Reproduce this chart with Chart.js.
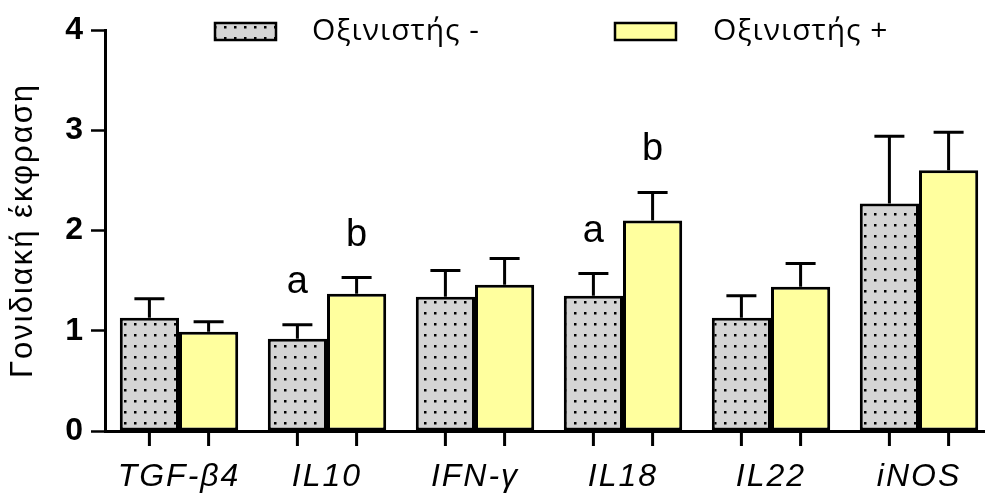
<!DOCTYPE html>
<html>
<head>
    <title>Γονιδιακή έκφραση</title>
    <script src="https://cdn.jsdelivr.net/npm/chart.js"></script>
    <style>
        body { margin: 0; background: #fff; overflow: hidden; }
        #wrap { width: 985px; height: 495px; overflow: hidden; }
    </style>
</head>
<body>
    <div id="wrap"><canvas id="geneChart" width="993" height="495"></canvas></div>

    <script>
        const categories = ['TGF-β4', 'IL10', 'IFN-γ', 'IL18', 'IL22', 'iNOS'];
        const minusValues = [1.13, 0.92, 1.34, 1.35, 1.13, 2.27];
        const minusErrors = [0.19, 0.14, 0.26, 0.22, 0.22, 0.67];
        const plusValues = [0.99, 1.37, 1.46, 2.10, 1.44, 2.60];
        const plusErrors = [0.10, 0.16, 0.26, 0.28, 0.23, 0.38];
        const minusLetters = ['', 'a', '', 'a', '', ''];
        const plusLetters = ['', 'b', '', 'b', '', ''];
        const yTicks = [0, 1, 2, 3, 4];

        // dotted grey fill
        function dotPattern() {
            const c = document.createElement('canvas');
            c.width = 10; c.height = 11;
            const g = c.getContext('2d');
            g.fillStyle = '#d4d4d4';
            g.fillRect(0, 0, 10, 11);
            g.fillStyle = '#000';
            g.fillRect(4, 4, 2.5, 2.5);
            return g.createPattern(c, 'repeat');
        }
        const greyFill = dotPattern();
        const yellowFill = '#ffff9e';

        // the original text is drawn a bit wider, so space the letters out
        const spacing = {
            id: 'spacing',
            beforeLayout(chart) { chart.ctx.letterSpacing = '2px'; },
            beforeDraw(chart) { chart.ctx.letterSpacing = '2px'; }
        };

        const errorBars = {
            id: 'errorBars',
            afterDatasetsDraw(chart) {
                const ctx = chart.ctx;
                const y = chart.scales.y;
                const xAxisBottom = chart.chartArea.bottom;
                ctx.save();
                ctx.letterSpacing = '0px';
                ctx.strokeStyle = '#000';
                ctx.lineWidth = 3;
                chart.data.datasets.forEach((ds, di) => {
                    const meta = chart.getDatasetMeta(di);
                    meta.data.forEach((bar, i) => {
                        const top = y.getPixelForValue(ds.data[i]);
                        const errTop = y.getPixelForValue(ds.data[i] + ds.errors[i]);
                        ctx.beginPath();
                        ctx.moveTo(bar.x, top);
                        ctx.lineTo(bar.x, errTop);
                        ctx.moveTo(bar.x - 15, errTop);
                        ctx.lineTo(bar.x + 15, errTop);
                        // x tick under bar
                        ctx.moveTo(bar.x, xAxisBottom);
                        ctx.lineTo(bar.x, xAxisBottom + 15);
                        ctx.stroke();
                        if (ds.letters[i]) {
                            ctx.fillStyle = '#000';
                            ctx.font = '38px "Liberation Sans", Arial, sans-serif';
                            ctx.textAlign = 'center';
                            ctx.textBaseline = 'alphabetic';
                            ctx.fillText(ds.letters[i], bar.x, errTop - 32);
                        }
                    });
                });
                ctx.restore();
            },
            afterDraw(chart) {
                const ctx = chart.ctx;
                ctx.save();
                ctx.letterSpacing = '1px';
                const spots = [[215, 312], [615, 713]];
                chart.data.datasets.forEach((ds, di) => {
                    const [bx, tx] = spots[di];
                    ctx.fillStyle = ds.backgroundColor;
                    ctx.fillRect(bx, 23, 61, 17);
                    ctx.strokeStyle = '#000';
                    ctx.lineWidth = 2.5;
                    ctx.strokeRect(bx, 23, 61, 17);
                    ctx.fillStyle = '#000';
                    ctx.font = '30px "Open Sans", sans-serif';
                    ctx.textAlign = 'left';
                    ctx.textBaseline = 'middle';
                    ctx.fillText(ds.label, tx, 31);
                });
                ctx.restore();
            }
        };

        const ctx = document.getElementById('geneChart').getContext('2d');
        new Chart(ctx, {
            type: 'bar',
            data: {
                labels: categories,
                datasets: [
                    {
                        label: 'Οξινιστής -',
                        data: minusValues,
                        errors: minusErrors,
                        letters: minusLetters,
                        backgroundColor: greyFill,
                        borderColor: '#000',
                        borderWidth: 3,
                        borderSkipped: false,
                    },
                    {
                        label: 'Οξινιστής +',
                        data: plusValues,
                        errors: plusErrors,
                        letters: plusLetters,
                        backgroundColor: yellowFill,
                        borderColor: '#000',
                        borderWidth: 3,
                        borderSkipped: false,
                    }
                ]
            },
            options: {
                responsive: false,
                animation: false,
                layout: { padding: { top: 30, right: 0, left: 0, bottom: 0 } },
                categoryPercentage: 0.8,
                barPercentage: 1.0,
                plugins: {
                    legend: { display: false },
                    tooltip: { enabled: false }
                },
                scales: {
                    x: {
                        grid: { display: false },
                        border: { color: '#000', width: 3 },
                        ticks: {
                            color: '#000',
                            padding: 19,
                            font: { family: '"Liberation Sans", Arial, sans-serif', size: 32, style: 'italic' }
                        },
                        afterFit(scale) { scale.height = 64; scale.paddingLeft = 0; scale.paddingRight = 0; }
                    },
                    y: {
                        min: 0,
                        max: 4,
                        afterBuildTicks(scale) { scale.ticks = yTicks.map(v => ({ value: v })); },
                        grid: { drawOnChartArea: false, tickLength: 14, tickWidth: 2.5, tickColor: '#000' },
                        border: { color: '#000', width: 3 },
                        ticks: {
                            color: '#000',
                            padding: 6,
                            font: { family: '"Liberation Sans", Arial, sans-serif', size: 32, weight: 'bold' }
                        },
                        title: {
                            display: true,
                            text: 'Γονιδιακή έκφραση',
                            color: '#000',
                            padding: { top: 5, bottom: 0 },
                            font: { family: '"Liberation Sans", Arial, sans-serif', size: 31 }
                        },
                        afterFit(scale) { scale.width = 105; scale.paddingTop = 0; scale.paddingBottom = 0; }
                    }
                }
            },
            plugins: [spacing, errorBars]
        });
    </script>
</body>
</html>
